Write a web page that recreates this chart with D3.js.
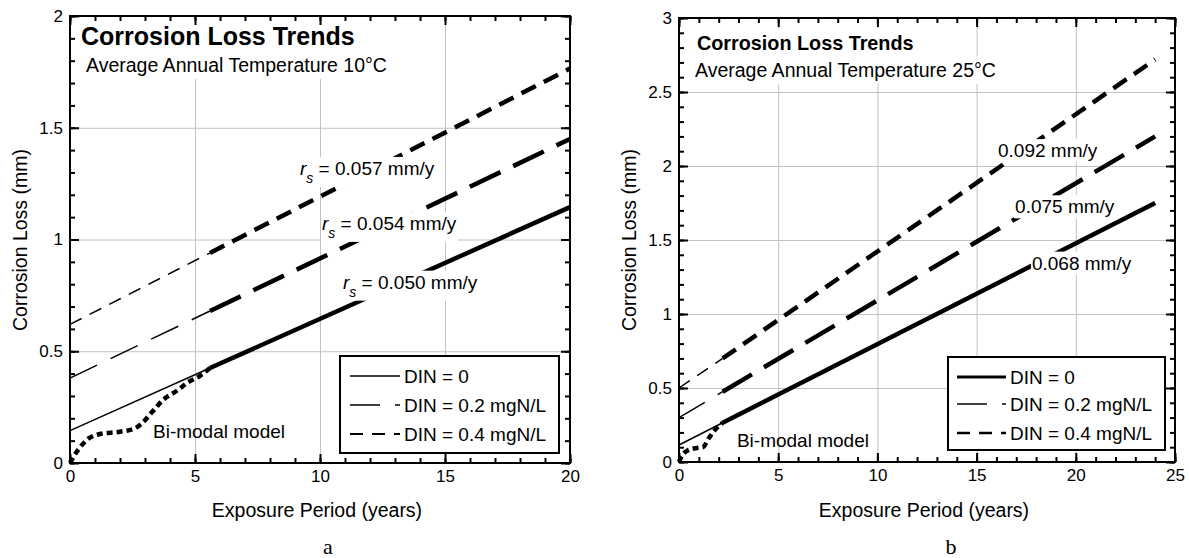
<!DOCTYPE html>
<html>
<head>
<meta charset="utf-8">
<script src="https://cdn.jsdelivr.net/npm/d3@7"></script>
<style>
body { margin: 0; background: #fff; }
svg { display: block; font-family: "Liberation Sans", Arial, Helvetica, sans-serif; }
</style>
</head>
<body>
<svg id="chart" width="1189" height="558"></svg>
<script>
// ---- data ----
// panel a: 10 C
var aYears   = [0, 5.6, 20];
var aDIN0    = [0.145, 0.425, 1.145];
var aDIN02   = [0.38, 0.68, 1.45];
var aDIN04   = [0.62, 0.94, 1.765];
var aBiYears = [0, 0.1, 0.4, 0.75, 1.2, 2.0, 2.6, 2.9, 3.3, 3.7, 4.3, 4.7, 5.2, 5.6];
var aBiLoss  = [0, 0.02, 0.07, 0.11, 0.13, 0.14, 0.155, 0.18, 0.23, 0.28, 0.325, 0.36, 0.39, 0.425];
var aRates   = ["0.050", "0.054", "0.057"];
var aXTicks  = [0, 5, 10, 15, 20];
var aYTicks  = [0, 0.5, 1, 1.5, 2];

// panel b: 25 C
var bYears   = [0, 2.2, 24];
var bDIN0    = [0.115, 0.265, 1.75];
var bDIN02   = [0.30, 0.475, 2.2];
var bDIN04   = [0.5, 0.70, 2.72];
var bBiYears = [0, 0.1, 0.4, 0.9, 1.2, 1.5, 1.9, 2.2];
var bBiLoss  = [0, 0.03, 0.075, 0.095, 0.1, 0.16, 0.23, 0.265];
var bRates   = ["0.068", "0.075", "0.092"];
var bXTicks  = [0, 5, 10, 15, 20, 25];
var bYTicks  = [0, 0.5, 1, 1.5, 2, 2.5, 3];

var legendLabels = ["DIN = 0", "DIN = 0.2 mgN/L", "DIN = 0.4 mgN/L"];

var svg = d3.select("#chart");

var dashThin  = [null, "30,15", "13,9"];
var dashThick = [null, "34,14", "16,9"];

var panelA = {
    left: 70, right: 570, top: 16, bottom: 463,
    xDomain: [0, 20], yDomain: [0, 2],
    xTicks: aXTicks, yTicks: aYTicks, xStep: 1, yStep: 0.1,
    years: aYears, series: [aDIN0, aDIN02, aDIN04],
    biYears: aBiYears, biLoss: aBiLoss,
    rates: aRates, withR: true,
    rateAt: [[10.92, 0.78], [10.08, 1.043], [9.2, 1.289]],
    biAt: [3.32, 0.112],
    title: "Corrosion Loss Trends", titleSize: 25, titleX: 81, titleY: 45,
    sub: "Average Annual Temperature 10\u00B0C", subX: 86, subY: 72,
    legend: {x: 340, y: 356, w: 219, h: 97, rows: [376, 405, 434], x1: 350, x2: 400, widths: [1.5, 1.5, 2]},
    letter: "a", letterX: 328
};

var panelB = {
    left: 679, right: 1175, top: 18, bottom: 462,
    xDomain: [0, 25], yDomain: [0, 3],
    xTicks: bXTicks, yTicks: bYTicks, xStep: 1, yStep: 0.1,
    years: bYears, series: [bDIN0, bDIN02, bDIN04],
    biYears: bBiYears, biLoss: bBiLoss,
    rates: bRates, withR: false,
    rateAt: [[17.79, 1.30], [16.94, 1.68], [16.08, 2.06]],
    biAt: [2.92, 0.10],
    title: "Corrosion Loss Trends", titleSize: 19.8, titleX: 697, titleY: 50,
    sub: "Average Annual Temperature 25\u00B0C", subX: 695, subY: 77,
    legend: {x: 948, y: 357, w: 217, h: 93, rows: [377, 404, 433], x1: 957, x2: 1006, widths: [3, 1.5, 2.5]},
    letter: "b", letterX: 951
};

function whiteBox(g, node, pad) {
    var b = node.getBBox();
    g.insert("rect", function () { return node; })
        .attr("x", b.x - pad).attr("y", b.y - pad)
        .attr("width", b.width + 2 * pad).attr("height", b.height + 2 * pad)
        .attr("fill", "#fff");
}

function drawPanel(p) {
    var x = d3.scaleLinear().domain(p.xDomain).range([p.left, p.right]);
    var y = d3.scaleLinear().domain(p.yDomain).range([p.bottom, p.top]);
    var w = p.right - p.left, h = p.bottom - p.top;
    var g = svg.append("g");

    // grid
    var gx = g.append("g").attr("transform", "translate(0," + p.bottom + ")")
        .call(d3.axisBottom(x).tickValues(p.xTicks.slice(1, -1)).tickSize(-h).tickFormat(""));
    var gy = g.append("g").attr("transform", "translate(" + p.left + ",0)")
        .call(d3.axisLeft(y).tickValues(p.yTicks.slice(1, -1)).tickSize(-w).tickFormat(""));
    [gx, gy].forEach(function (s) {
        s.select(".domain").remove();
        s.selectAll("line").attr("stroke", "#c2c2c2").attr("stroke-width", 1);
    });

    // trend lines, thin at the start and thick afterwards
    var line = d3.line().x(function (d) { return x(d[0]); }).y(function (d) { return y(d[1]); });
    p.series.forEach(function (vals, i) {
        var pts = p.years.map(function (t, j) { return [t, vals[j]]; });
        g.append("path").attr("d", line(pts.slice(0, 2)))
            .attr("fill", "none").attr("stroke", "#000").attr("stroke-width", 1.5)
            .attr("stroke-dasharray", dashThin[i]);
        g.append("path").attr("d", line(pts.slice(1)))
            .attr("fill", "none").attr("stroke", "#000").attr("stroke-width", 4.5)
            .attr("stroke-dasharray", dashThick[i]);
    });

    // bi-modal model curve
    var bi = p.biYears.map(function (t, j) { return [t, p.biLoss[j]]; });
    g.append("path").attr("d", line.curve(d3.curveMonotoneX)(bi))
        .attr("fill", "none").attr("stroke", "#000").attr("stroke-width", 4.5)
        .attr("stroke-dasharray", "6,4");
    line.curve(d3.curveLinear);

    // rate labels
    p.rates.forEach(function (r, i) {
        var t = g.append("text")
            .attr("x", x(p.rateAt[i][0])).attr("y", y(p.rateAt[i][1]))
            .attr("font-size", 19);
        if (p.withR) {
            t.append("tspan").attr("font-style", "italic").text("r");
            t.append("tspan").attr("font-style", "italic").attr("font-size", 14).attr("dy", 8).text("s");
            t.append("tspan").attr("dy", -8).text(" = " + r + " mm/y");
        } else {
            t.text(r + " mm/y");
        }
        whiteBox(g, t.node(), 1);
    });

    g.append("text").attr("x", x(p.biAt[0])).attr("y", y(p.biAt[1]))
        .attr("font-size", 19).text("Bi-modal model");

    // titles
    var t1 = g.append("text").attr("x", p.titleX).attr("y", p.titleY)
        .attr("font-size", p.titleSize).attr("font-weight", "bold").text(p.title);
    whiteBox(g, t1.node(), 3);
    var t2 = g.append("text").attr("x", p.subX).attr("y", p.subY)
        .attr("font-size", 19.5).text(p.sub);
    whiteBox(g, t2.node(), 3);

    // legend
    var L = p.legend;
    g.append("rect").attr("x", L.x).attr("y", L.y).attr("width", L.w).attr("height", L.h)
        .attr("fill", "#fff").attr("stroke", "#000").attr("stroke-width", 2);
    legendLabels.forEach(function (lab, i) {
        g.append("line").attr("x1", L.x1).attr("x2", L.x2).attr("y1", L.rows[i]).attr("y2", L.rows[i])
            .attr("stroke", "#000").attr("stroke-width", L.widths[i])
            .attr("stroke-dasharray", dashThin[i]);
        g.append("text").attr("x", L.x2 + 4).attr("y", L.rows[i]).attr("dy", "0.36em")
            .attr("font-size", 19).text(lab);
    });

    // axes with inward ticks on all sides
    var fmt = function (d) { return String(d); };
    var xMinor = d3.range(p.xDomain[0], p.xDomain[1] + 1e-9, p.xStep);
    var yMinor = d3.range(p.yDomain[0], p.yDomain[1] + 1e-9, p.yStep);
    var axes = [
        [d3.axisBottom, x, p.bottom, true, p.xTicks, xMinor, true],
        [d3.axisTop, x, p.top, true, p.xTicks, xMinor, false],
        [d3.axisLeft, y, p.left, false, p.yTicks, yMinor, true],
        [d3.axisRight, y, p.right, false, p.yTicks, yMinor, false]
    ];
    axes.forEach(function (a) {
        var tr = a[3] ? "translate(0," + a[2] + ")" : "translate(" + a[2] + ",0)";
        var minor = g.append("g").attr("transform", tr)
            .call(a[0](a[1]).tickValues(a[5]).tickSizeInner(-5).tickSizeOuter(0).tickFormat(""));
        var major = g.append("g").attr("transform", tr)
            .call(a[0](a[1]).tickValues(a[4]).tickSizeInner(-9).tickSizeOuter(0).tickPadding(7)
                .tickFormat(a[6] ? fmt : ""));
        [minor, major].forEach(function (s) {
            s.select(".domain").remove();
            s.selectAll("line").attr("stroke", "#000").attr("stroke-width", 2);
        });
        major.selectAll("text").attr("font-size", 17).attr("fill", "#000")
            .attr("font-family", "Liberation Sans, Arial, sans-serif");
    });

    g.append("rect").attr("x", p.left).attr("y", p.top).attr("width", w).attr("height", h)
        .attr("fill", "none").attr("stroke", "#000").attr("stroke-width", 2);

    // axis titles
    g.append("text").attr("x", (p.left + p.right) / 2 - 3).attr("y", 517)
        .attr("text-anchor", "middle").attr("font-size", 19.5).text("Exposure Period (years)");
    g.append("text").attr("transform", "translate(" + (p.left - 50) + ",240) rotate(-90)")
        .attr("text-anchor", "middle").attr("dy", "0.35em").attr("font-size", 19.5).text("Corrosion Loss (mm)");

    g.append("text").attr("x", p.letterX).attr("y", 554).attr("text-anchor", "middle")
        .attr("font-family", "Liberation Serif, Times New Roman, serif").attr("font-size", 22).text(p.letter);
}

drawPanel(panelA);
drawPanel(panelB);
</script>
</body>
</html>
